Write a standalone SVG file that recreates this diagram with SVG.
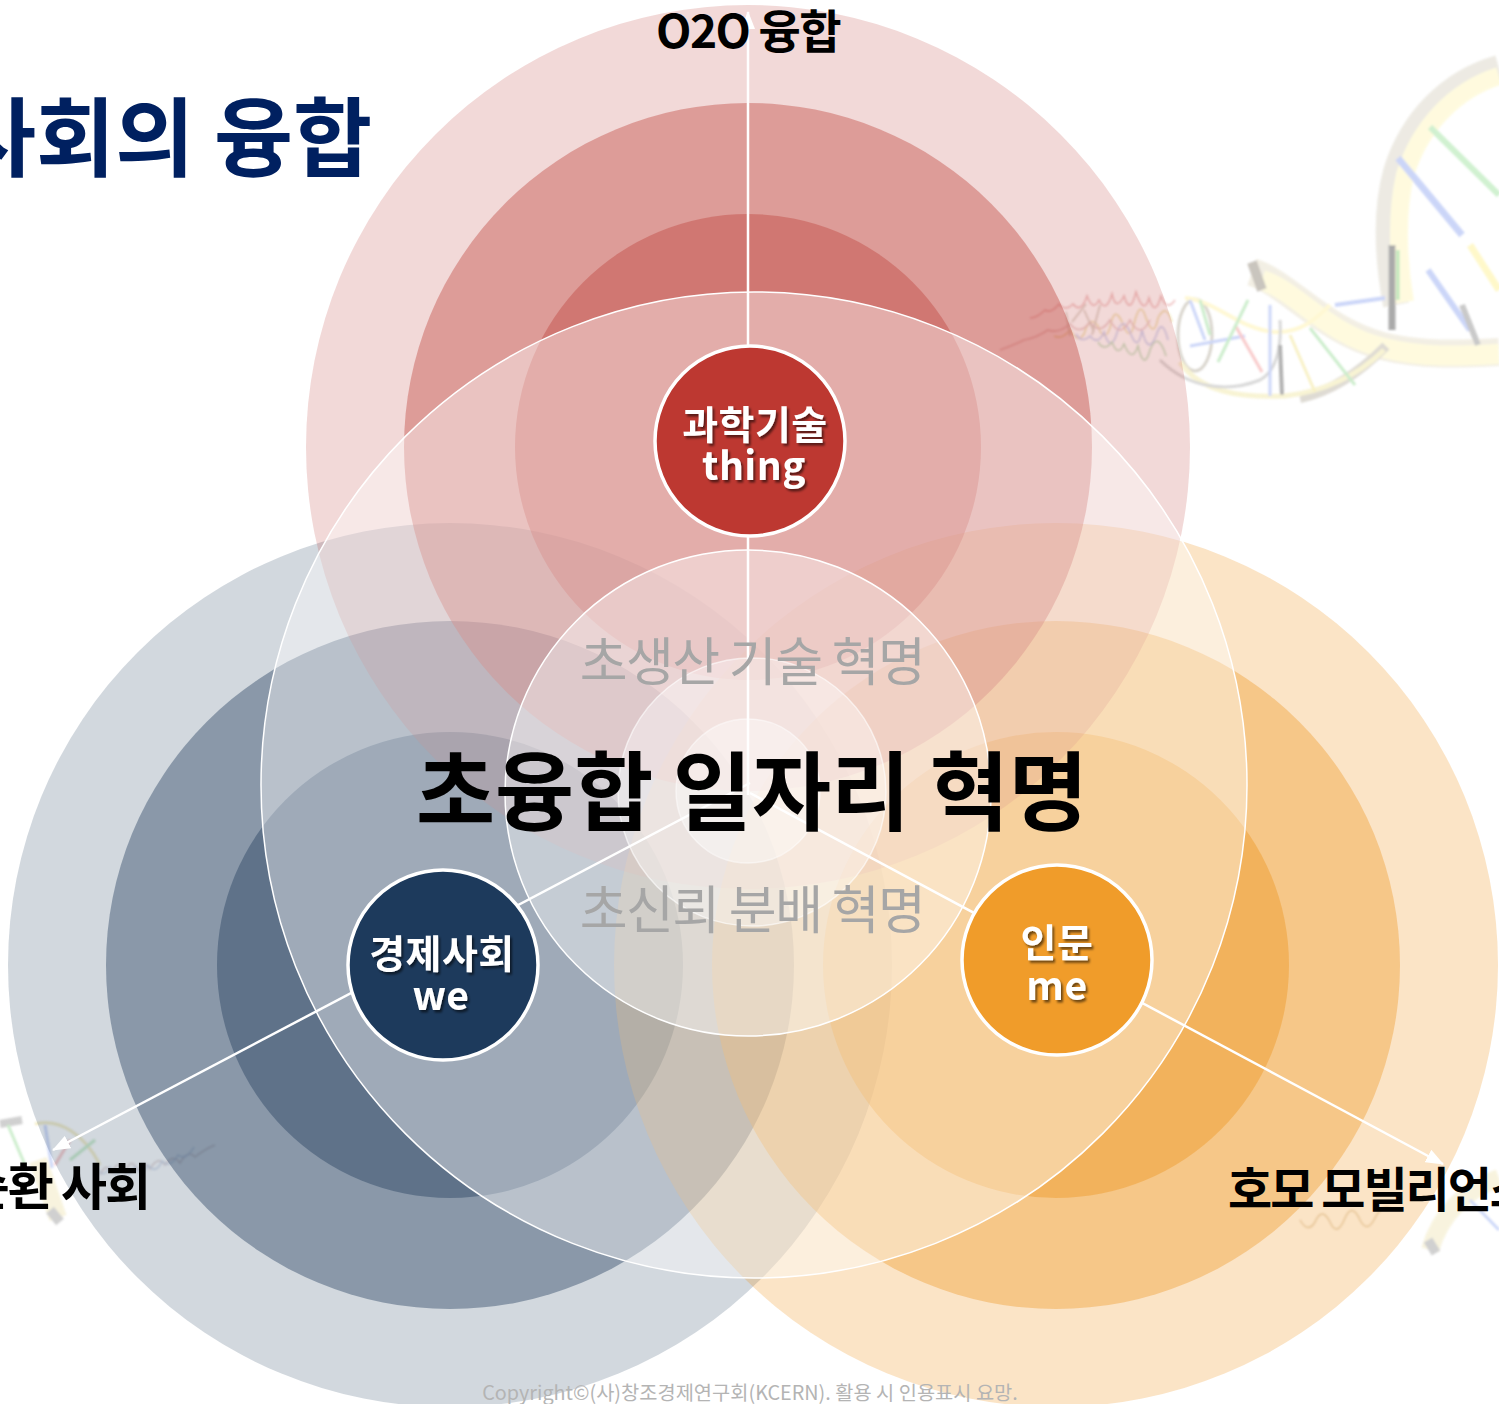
<svg xmlns="http://www.w3.org/2000/svg" width="1499" height="1404" viewBox="0 0 1499 1404">
  <defs>
    <style>
      .kr { font-family: "Noto Sans CJK KR", "Noto Sans", sans-serif; }
      .title { font-weight: 700; fill: #002060; font-size: 86px; }
      .head { font-weight: 700; fill: #000; }
      .sub { fill: #a6a6a6; font-size: 52px; letter-spacing: -1.5px; }
      .node-text { font-weight: 700; fill: #fff; font-size: 39px; letter-spacing: 0.5px; filter: url(#shadow); }
      .red { fill: #bf403a; }
      .navy { fill: #1f3a5a; }
      .orange { fill: #ee931b; }
      .halo { fill: #fff; fill-opacity: 0.4; stroke: #fff; stroke-width: 1.5; }
      .link { stroke: #fff; stroke-width: 2.5; fill: none; }
      .node { stroke: #fff; stroke-width: 3.5; }
      .copy { fill: #b4b4b4; font-size: 19.8px; }
      .rung { stroke-width: 3; }
    </style>
    <filter id="shadow" x="-20%" y="-20%" width="140%" height="160%">
      <feDropShadow dx="2" dy="2.5" stdDeviation="1.2" flood-color="#000" flood-opacity="0.55"/>
    </filter>
    <filter id="soft" x="-10%" y="-10%" width="120%" height="120%">
      <feGaussianBlur stdDeviation="1.2"/>
    </filter>
    <filter id="fuzz" x="-10%" y="-10%" width="120%" height="120%">
      <feGaussianBlur stdDeviation="0.9"/>
    </filter>
    <marker id="arrow" viewBox="0 0 18 14" refX="17" refY="7" markerWidth="18" markerHeight="14" markerUnits="userSpaceOnUse" orient="auto">
      <path d="M0,0 L18,7 L0,14 z" fill="#fff"/>
    </marker>
  </defs>

  <rect width="1499" height="1404" fill="#fff"/>

  <!-- faded DNA helix decoration, top right -->
  <g id="dna-top" opacity="0.45" filter="url(#soft)">
    <path d="M1499,68 C1450,82 1412,120 1396,172 C1385,212 1388,262 1396,305" stroke="#d8d2c2" stroke-width="26" fill="none"/>
    <path d="M1499,76 C1455,90 1420,126 1405,175 C1396,214 1398,262 1405,302" stroke="#fff6b8" stroke-width="18" fill="none"/>
    <path d="M1252,272 C1290,285 1322,330 1382,346 C1422,356 1460,354 1499,352" stroke="#e4dcc4" stroke-width="28" fill="none"/>
    <path d="M1262,280 C1298,292 1326,334 1384,348 C1424,358 1460,356 1499,354" stroke="#fff6b8" stroke-width="20" fill="none"/>
    <path d="M1252,262 L1262,290" stroke="#8a8070" stroke-width="10"/>
    <path d="M1300,398 C1330,392 1360,372 1386,346" stroke="#b8b0a0" stroke-width="10" fill="none"/>
    <line x1="1398" y1="158" x2="1462" y2="235" stroke="#8ea4f0" stroke-width="7"/>
    <line x1="1430" y1="127" x2="1499" y2="195" stroke="#98e098" stroke-width="6"/>
    <line x1="1470" y1="245" x2="1499" y2="290" stroke="#fff08a" stroke-width="7"/>
    <line x1="1428" y1="270" x2="1470" y2="330" stroke="#8ea4f0" stroke-width="6"/>
    <line x1="1462" y1="305" x2="1478" y2="345" stroke="#888" stroke-width="6"/>
    <line x1="1392" y1="245" x2="1392" y2="330" stroke="#444" stroke-width="7"/>
    <line x1="1398" y1="250" x2="1398" y2="300" stroke="#6c6" stroke-width="3"/>
    <line x1="1335" y1="305" x2="1385" y2="298" stroke="#8ea4f0" stroke-width="4"/>
    <!-- smaller turns of the helix -->
    <ellipse cx="1195" cy="335" rx="17" ry="36" stroke="#aaa290" stroke-width="3" fill="none"/>
    <path d="M1180,362 C1200,392 1240,398 1285,396 C1320,392 1355,378 1384,350" stroke="#f0e6a0" stroke-width="5" fill="none"/>
    <path d="M1185,298 C1215,300 1240,330 1275,332 C1300,333 1315,320 1330,305" stroke="#fff0a0" stroke-width="4" fill="none"/>
    <path d="M1160,360 C1190,390 1230,392 1260,380 C1275,372 1282,350 1280,320" stroke="#aaa" stroke-width="3" fill="none"/>
    <line class="rung" x1="1190" y1="346" x2="1245" y2="336" stroke="#8ea4f0"/>
    <line class="rung" x1="1235" y1="325" x2="1262" y2="372" stroke="#f08a8a"/>
    <line class="rung" x1="1248" y1="300" x2="1218" y2="362" stroke="#8fd88f"/>
    <line class="rung" x1="1270" y1="305" x2="1270" y2="396" stroke="#8ea4f0"/>
    <line class="rung" x1="1290" y1="335" x2="1315" y2="392" stroke="#f0e080"/>
    <line class="rung" x1="1310" y1="328" x2="1355" y2="385" stroke="#8fd88f"/>
    <line x1="1280" y1="345" x2="1282" y2="395" stroke="#555" stroke-width="4"/>
    <line class="rung" x1="1190" y1="300" x2="1205" y2="340" stroke="#8ea4f0"/>
    <line class="rung" x1="1200" y1="300" x2="1210" y2="335" stroke="#8fd88f"/>
  </g>
  <!-- fading tail of the helix -->
  <g id="dna-tail" opacity="0.4" filter="url(#fuzz)" fill="none" stroke-width="1.6">
    <path d="M1175,300 q-8,12 -14,-4 q-6,22 -12,2 q-5,18 -13,-6 q-6,24 -12,4 q-8,16 -12,-2 q-6,20 -13,6 q-6,12 -12,-4 q-6,18 -14,8 q-8,8 -14,0 q-8,10 -14,6 q-8,8 -15,8" stroke="#d86a6a"/>
    <path d="M1172,322 q-6,-20 -14,-4 q-4,22 -12,0 q-6,-20 -12,6 q-4,20 -12,-2 q-8,-18 -12,6 q-6,16 -12,-2 q-8,-12 -14,8 q-6,10 -14,-4 q-8,10 -16,6" stroke="#d6b840"/>
    <path d="M1168,340 q-6,-24 -12,-4 q-8,20 -14,-6 q-4,24 -12,2 q-8,-18 -14,4 q-6,16 -12,-4 q-6,14 -14,4 q-8,8 -14,-2" stroke="#7d92dc"/>
    <path d="M1166,356 q-8,-26 -16,-6 q-6,22 -12,-4 q-6,18 -14,-2 q-6,14 -12,-2 q-8,10 -14,0" stroke="#6fb86f"/>
    <path d="M1150,320 q-10,20 -20,0 q-10,20 -20,0 q-10,16 -20,2 q-10,14 -20,2 q-12,10 -22,6 q-12,8 -24,10 q-12,6 -24,10" stroke="#c77a7a"/>
    <path d="M1100,305 l-8,30 m-8,-25 l10,22 m-22,-10 l14,-18 m-20,8 l4,24" stroke="#9c8a70"/>
  </g>

  <!-- faded DNA pieces near the bottom corners -->
  <g id="dna-bottom" opacity="0.45" filter="url(#soft)">
    <path d="M0,1124 L22,1120" stroke="#999" stroke-width="8"/>
    <path d="M38,1160 L58,1218" stroke="#f0e6b8" stroke-width="18"/>
    <path d="M50,1210 L60,1222" stroke="#999" stroke-width="10"/>
    <path d="M35,1124 C60,1118 85,1135 100,1165" stroke="#e8d880" stroke-width="3" fill="none"/>
    <line x1="8" y1="1125" x2="25" y2="1165" stroke="#8fd88f" stroke-width="3"/>
    <line x1="45" y1="1125" x2="52" y2="1168" stroke="#8fa8f0" stroke-width="3"/>
    <line x1="55" y1="1165" x2="70" y2="1140" stroke="#f08a8a" stroke-width="3"/>
    <line x1="70" y1="1160" x2="95" y2="1140" stroke="#8fd88f" stroke-width="3"/>
    <path d="M100,1175 q6,-14 12,-2 q6,-16 13,0 q6,-18 13,-2 q6,-12 12,-2 q8,-14 15,-4 q8,-12 15,-2 q8,-14 15,-6 q10,-8 20,-12" stroke="#c0a0a0" stroke-width="1.5" fill="none"/>
    <path d="M95,1165 q8,16 15,2 q6,14 12,0 q6,14 13,0 q6,12 13,-2 q8,10 14,-4 q8,8 16,-6 q8,6 16,-8" stroke="#a0b0d0" stroke-width="1.5" fill="none"/>
    <path d="M1430,1250 C1440,1215 1465,1190 1499,1178" stroke="#f0e6b8" stroke-width="18" fill="none"/>
    <path d="M1428,1240 L1436,1253" stroke="#999" stroke-width="10"/>
    <line x1="1470" y1="1200" x2="1499" y2="1230" stroke="#8fa8f0" stroke-width="3"/>
    <path d="M1300,1220 q8,14 15,2 q7,-16 15,0 q7,16 15,-4 q7,-16 15,2 q7,14 15,-2 q7,-14 15,-10" stroke="#c0a070" stroke-width="1.5" fill="none"/>
  </g>

  <!-- economy & society rings -->
  <g id="rings-we">
    <circle class="navy" cx="450" cy="965" r="442" fill-opacity="0.2"/>
    <circle class="navy" cx="450" cy="965" r="344" fill-opacity="0.4"/>
    <circle class="navy" cx="450" cy="965" r="233" fill-opacity="0.4"/>
  </g>
  <!-- humanities rings -->
  <g id="rings-me">
    <circle class="orange" cx="1056" cy="965" r="442" fill-opacity="0.25"/>
    <circle class="orange" cx="1056" cy="965" r="344" fill-opacity="0.36"/>
    <circle class="orange" cx="1056" cy="965" r="233" fill-opacity="0.4"/>
  </g>
  <!-- science & technology rings -->
  <g id="rings-thing">
    <circle class="red" cx="748" cy="447" r="442" fill-opacity="0.2"/>
    <circle class="red" cx="748" cy="447" r="344" fill-opacity="0.4"/>
    <circle class="red" cx="748" cy="447" r="233" fill-opacity="0.4"/>
  </g>

  <!-- central convergence halo -->
  <g id="halo">
    <circle class="halo" cx="754" cy="785" r="493"/>
    <circle class="halo" cx="748" cy="793" r="243" stroke-width="1"/>
    <circle class="halo" cx="752" cy="792" r="134" stroke-width="1" stroke-opacity="0.6"/>
    <circle class="halo" cx="748" cy="791" r="72" stroke-width="1" stroke-opacity="0.5"/>
  </g>

  <!-- connectors -->
  <g id="connectors">
    <line class="link" x1="748" y1="795" x2="748" y2="12" marker-end="url(#arrow)"/>
    <line class="link" x1="750" y1="783" x2="53" y2="1150" marker-end="url(#arrow)"/>
    <line class="link" x1="750" y1="793" x2="1443" y2="1164" marker-end="url(#arrow)"/>
  </g>

  <g id="node-thing">
    <circle class="node" cx="750" cy="441" r="95" fill="#bd3831"/>
    <text class="kr node-text" x="755" y="439" text-anchor="middle">과학기술</text>
    <text class="kr node-text" x="754" y="480" text-anchor="middle">thing</text>
  </g>
  <g id="node-we">
    <circle class="node" cx="443" cy="965" r="95" fill="#1d3a5c"/>
    <text class="kr node-text" x="442" y="968" text-anchor="middle">경제사회</text>
    <text class="kr node-text" x="441" y="1010" text-anchor="middle">we</text>
  </g>
  <g id="node-me">
    <circle class="node" cx="1057" cy="960" r="95" fill="#f09c2a"/>
    <text class="kr node-text" x="1057" y="957" text-anchor="middle">인문</text>
    <text class="kr node-text" x="1057" y="1000" text-anchor="middle">me</text>
  </g>

  <!-- labels -->
  <g id="labels">
    <text class="kr title" x="-43" y="170">사회의 융합</text>
    <text class="kr head" x="748" y="48" text-anchor="middle" font-size="46" letter-spacing="-1.5">O2O 융합</text>
    <text class="kr head" x="149" y="1205" text-anchor="end" font-size="50" letter-spacing="-2">순환 사회</text>
    <text class="kr head" x="1228" y="1207" font-size="48" letter-spacing="-2">호모 모빌리언스</text>
    <text class="kr sub" x="752" y="681" text-anchor="middle">초생산 기술 혁명</text>
    <text class="kr sub" x="752" y="929" text-anchor="middle">초신뢰 분배 혁명</text>
    <text class="kr head" x="752" y="824" text-anchor="middle" font-size="86">초융합 일자리 혁명</text>
    <text class="kr copy" x="750" y="1400" text-anchor="middle">Copyright©(사)창조경제연구회(KCERN). 활용 시 인용표시 요망.</text>
  </g>
</svg>
